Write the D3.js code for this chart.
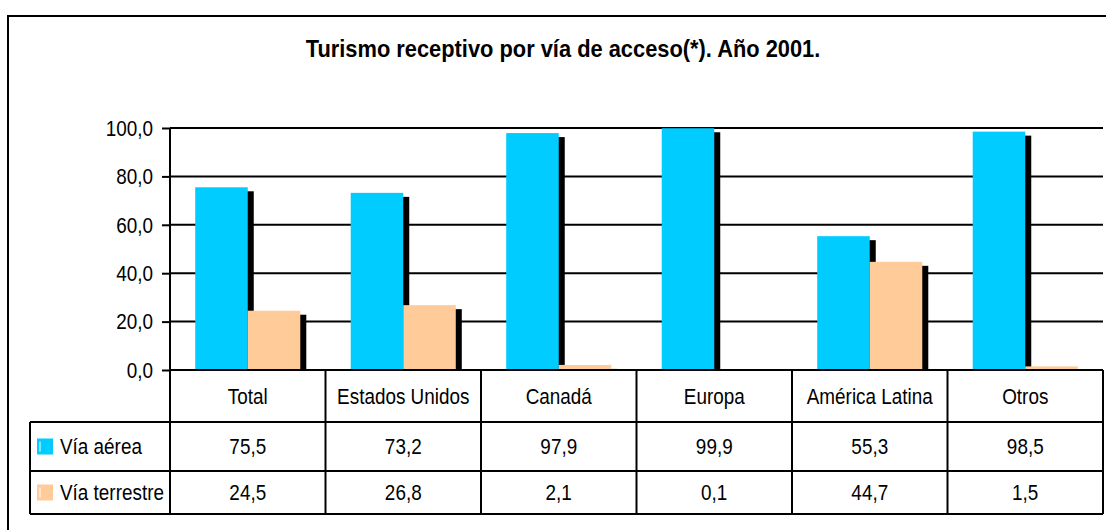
<!DOCTYPE html>
<html lang="es">
<head>
<meta charset="UTF-8">
<style>
  body { margin: 0; background: #fff; }
  text { font-family: "Liberation Sans", Arial, sans-serif; fill: #000; }
</style>
</head>
<body>
<div id="chart"></div>
<script src="https://cdn.jsdelivr.net/npm/d3@7"></script>
<script>
// data
var categories = ["Total", "Estados Unidos", "Canadá", "Europa", "América Latina", "Otros"];
var seriesNames = ["Vía aérea", "Vía terrestre"];
var aerea = [75.5, 73.2, 97.9, 99.9, 55.3, 98.5];
var terrestre = [24.5, 26.8, 2.1, 0.1, 44.7, 1.5];
var yTicks = [0, 20, 40, 60, 80, 100];
var colors = ["#00ccff", "#ffcc99"];

var W = 1106, H = 530;
var plotLeft = 170, plotRight = 1103, plotTop = 128, plotBottom = 370;
var rowLines = [370, 422, 471, 514];
var legendLeft = 30;
var fs = "22.5px";
var squeeze = 0.84;   // the original font is a condensed one

var fmt = function (d) { return d3.format(".1f")(d).replace(".", ","); };
var place = function (x, y) { return "translate(" + x + "," + y + ") scale(" + squeeze + ",1)"; };

var svg = d3.select("#chart").append("svg")
    .attr("width", W).attr("height", H);

// outer frame (runs off the picture on the right and bottom)
svg.append("rect")
    .attr("x", 8).attr("y", 16)
    .attr("width", 1120).attr("height", 540)
    .attr("fill", "none").attr("stroke", "#000").attr("stroke-width", 2);

svg.append("text")
    .attr("transform", "translate(563,57) scale(0.95,1)")
    .attr("text-anchor", "middle")
    .style("font-weight", "bold").style("font-size", "23px")
    .text("Turismo receptivo por vía de acceso(*). Año 2001.");

var x0 = d3.scaleBand().domain(categories).range([plotLeft, plotRight]).padding(0);
var x1 = d3.scaleBand().domain(seriesNames).range([0, x0.bandwidth()])
    .paddingInner(0).paddingOuter(0.48);
var y = d3.scaleLinear().domain([0, 100]).range([plotBottom, plotTop]);

// gridlines
svg.append("g").selectAll("line")
    .data(yTicks.filter(function (d) { return d > 0; }))
    .enter().append("line")
    .attr("x1", plotLeft).attr("x2", plotRight)
    .attr("y1", function (d) { return y(d); })
    .attr("y2", function (d) { return y(d); })
    .attr("stroke", "#000").attr("stroke-width", 2);

// y axis with ticks
var yAxis = svg.append("g")
    .attr("transform", "translate(" + plotLeft + ",0)")
    .call(d3.axisLeft(y).tickValues(yTicks).tickSize(8).tickPadding(9).tickFormat(fmt));
yAxis.select(".domain").remove();
yAxis.selectAll(".tick line").attr("stroke", "#000").attr("stroke-width", 2);
yAxis.selectAll(".tick text")
    .style("font-size", fs)
    .attr("x", -17 / squeeze)
    .attr("transform", "scale(" + squeeze + ",1)");
yAxis.attr("font-family", null).attr("font-size", null);

var rows = [aerea, terrestre];
var bars = [];
rows.forEach(function (vals, s) {
    vals.forEach(function (v, i) {
        bars.push({ cat: categories[i], s: s, v: v });
    });
});

svg.append("clipPath").attr("id", "plotclip")
    .append("rect").attr("x", plotLeft).attr("y", 0)
    .attr("width", plotRight - plotLeft).attr("height", plotBottom);

var barG = svg.append("g").attr("clip-path", "url(#plotclip)");

// shadows
barG.selectAll(".shadow").data(bars).enter().append("rect")
    .attr("class", "shadow")
    .attr("x", function (d) { return x0(d.cat) + x1(seriesNames[d.s]) + 6; })
    .attr("y", function (d) { return y(d.v) + 4; })
    .attr("width", x1.bandwidth())
    .attr("height", function (d) { return Math.max(0, plotBottom - y(d.v)); })
    .attr("fill", "#000");

barG.selectAll(".bar").data(bars).enter().append("rect")
    .attr("class", "bar")
    .attr("x", function (d) { return x0(d.cat) + x1(seriesNames[d.s]); })
    .attr("y", function (d) { return y(d.v); })
    .attr("width", x1.bandwidth())
    .attr("height", function (d) { return plotBottom - y(d.v); })
    .attr("fill", function (d) { return colors[d.s]; });

// data table
var tg = svg.append("g").attr("stroke", "#000").attr("stroke-width", 2);
tg.append("line").attr("x1", plotLeft).attr("x2", plotRight)
    .attr("y1", plotBottom).attr("y2", plotBottom);
rowLines.slice(1).forEach(function (ly) {
    tg.append("line").attr("x1", legendLeft).attr("x2", plotRight).attr("y1", ly).attr("y2", ly);
});
tg.append("line").attr("x1", legendLeft).attr("x2", legendLeft)
    .attr("y1", rowLines[1]).attr("y2", rowLines[3]);
tg.append("line").attr("x1", plotLeft).attr("x2", plotLeft)
    .attr("y1", plotTop).attr("y2", rowLines[3]);
tg.selectAll(".vsep").data(categories).enter().append("line")
    .attr("x1", function (d) { return x0(d) + x0.bandwidth(); })
    .attr("x2", function (d) { return x0(d) + x0.bandwidth(); })
    .attr("y1", plotBottom).attr("y2", rowLines[3]);

svg.selectAll(".catlabel").data(categories).enter().append("text")
    .attr("transform", function (d) {
        return place(x0(d) + x0.bandwidth() / 2, (rowLines[0] + rowLines[1]) / 2);
    })
    .attr("dy", "0.35em")
    .attr("text-anchor", "middle")
    .style("font-size", fs)
    .text(function (d) { return d; });

rows.forEach(function (vals, s) {
    var cy = (rowLines[s + 1] + rowLines[s + 2]) / 2;
    svg.selectAll(".val" + s).data(vals).enter().append("text")
        .attr("transform", function (d, i) {
            return place(x0(categories[i]) + x0.bandwidth() / 2, cy);
        })
        .attr("dy", "0.35em")
        .attr("text-anchor", "middle")
        .style("font-size", fs)
        .text(fmt);

    svg.append("rect")
        .attr("x", 37).attr("y", cy - 8)
        .attr("width", 16).attr("height", 16)
        .attr("fill", colors[s]);
    svg.append("line")
        .attr("x1", 40).attr("x2", 40)
        .attr("y1", cy - 5).attr("y2", cy + 5)
        .attr("stroke", "#fff").attr("stroke-width", 1);
    svg.append("text")
        .attr("transform", place(60, cy))
        .attr("dy", "0.35em")
        .style("font-size", fs)
        .text(seriesNames[s]);
});
</script>
</body>
</html>
